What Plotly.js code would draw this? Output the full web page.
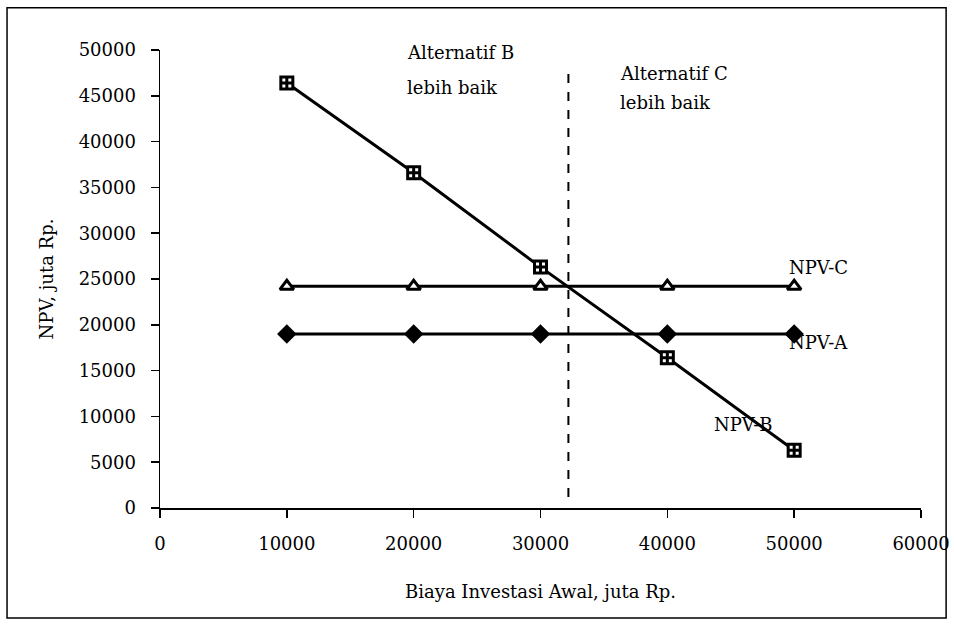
<!DOCTYPE html>
<html>
<head>
<meta charset="utf-8">
<script src="https://cdn.plot.ly/plotly-3.0.1.min.js"></script>
<style>html,body{margin:0;padding:0;background:#fff;}#chart{width:954px;height:624px;}</style>
</head>
<body>
<div id="chart"></div>
<script>
const investasi = [10000, 20000, 30000, 40000, 50000];
const npvA = [19000, 19000, 19000, 19000, 19000];
const npvB = [46400, 36600, 26300, 16400, 6300];
const npvC = [24200, 24200, 24200, 24200, 24200];
const seriesNames = ["NPV-A", "NPV-B", "NPV-C"];
const breakEven = [32200];
const xTicks = [0, 10000, 20000, 30000, 40000, 50000, 60000];
const yTicks = [0, 5000, 10000, 15000, 20000, 25000, 30000, 35000, 40000, 45000, 50000];
const regionB = ["Alternatif B", "lebih baik"];
const regionC = ["Alternatif C", "lebih baik"];

const FONT = "DejaVu Serif";
const traces = [
  {x: investasi, y: npvA, name: seriesNames[0], mode: "lines+markers",
   line: {color: "#000", width: 3},
   marker: {symbol: "diamond", size: 15, color: "#000"}},
  {x: investasi, y: npvC, name: seriesNames[2], mode: "lines+markers",
   line: {color: "#000", width: 3},
   marker: {symbol: "triangle-up", size: 12, color: "#fff", line: {color: "#000", width: 3}}},
  {x: investasi, y: npvB, name: seriesNames[1], mode: "lines+markers",
   line: {color: "#000", width: 3},
   marker: {symbol: "square-cross", size: 12, color: "#fff", line: {color: "#000", width: 3}}}
];

const ann = (x, y, text, xref, yref, anchorY) => ({x, y, xref, yref, text, showarrow: false,
  xanchor: "left", yanchor: anchorY || "middle", align: "left", font: {family: FONT, size: 18, color: "#000"}});

const layout = {
  width: 954, height: 624,
  margin: {l: 160, r: 33, t: 50, b: 116},
  paper_bgcolor: "#fff", plot_bgcolor: "#fff",
  showlegend: false,
  font: {family: FONT, size: 18, color: "#000"},
  xaxis: {
    range: [0, 60000], tickvals: xTicks, ticktext: xTicks.map(String),
    showgrid: false, zeroline: false, showline: true, linecolor: "#000", linewidth: 1.5,
    ticks: "outside", ticklen: 8, tickcolor: "#000", tickwidth: 1.5,
    ticklabelstandoff: 11,
    tickfont: {family: FONT, size: 18, color: "#000"},
    title: {text: "Biaya Investasi Awal, juta Rp.", font: {family: FONT, size: 18, color: "#000"}, standoff: 32},
    automargin: false
  },
  yaxis: {
    range: [0, 50000], tickvals: yTicks, ticktext: yTicks.map(String),
    showgrid: false, zeroline: false, showline: true, linecolor: "#000", linewidth: 1.5,
    ticks: "outside", ticklen: 8, tickcolor: "#000", tickwidth: 1.5,
    ticklabelstandoff: 11,
    tickfont: {family: FONT, size: 18, color: "#000"},
    title: {text: "NPV, juta Rp.", font: {family: FONT, size: 18, color: "#000"}, standoff: 20},
    automargin: false
  },
  shapes: [
    {type: "line", xref: "x", yref: "y", x0: breakEven[0], x1: breakEven[0], y0: 1200, y1: 47600,
     line: {color: "#000", width: 2, dash: "dash"}},
    {type: "rect", xref: "paper", yref: "paper", x0: -0.201, x1: 1.033, y0: -0.240, y1: 1.092,
     line: {color: "#000", width: 1.5}, fillcolor: "rgba(0,0,0,0)", layer: "below"}
  ],
  annotations: [
    ann(49400, 26300, seriesNames[2], "x", "y"),
    ann(49400, 18100, seriesNames[0], "x", "y"),
    ann(43500, 9100, seriesNames[1], "x", "y"),
    ann(0.322, 0.9956, regionB[0], "paper", "paper"),
    ann(0.322, 0.9192, regionB[1], "paper", "paper"),
    ann(0.602, 0.9487, regionC[0], "paper", "paper"),
    ann(0.602, 0.8843, regionC[1], "paper", "paper")
  ]
};

Plotly.newPlot("chart", traces, layout, {displayModeBar: false, staticPlot: true});
</script>
</body>
</html>
